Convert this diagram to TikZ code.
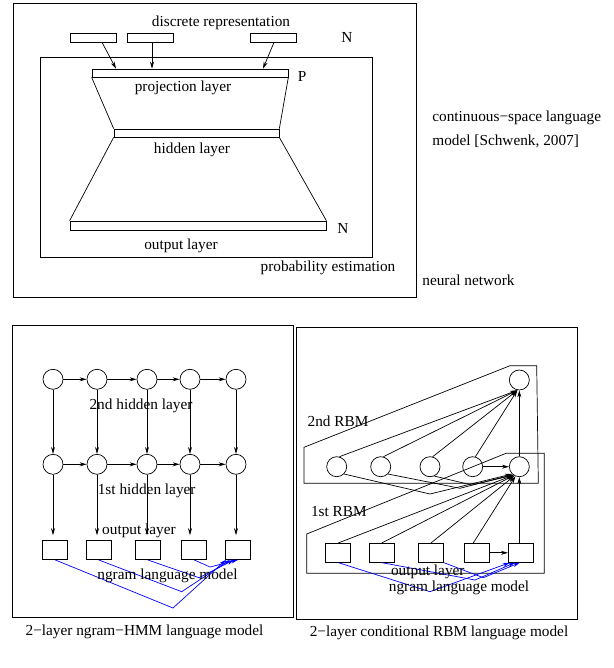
\documentclass[tikz,border=0pt]{standalone}
\usepackage{fontspec}
\setmainfont{Liberation Serif}
\usetikzlibrary{arrows.meta,calc}
\begin{document}
\begin{tikzpicture}[x=1pt,y=-1pt,line width=0.7pt,
  lbl/.style={inner sep=0pt,font=\fontsize{15.3}{17}\selectfont},
  lbll/.style={lbl,anchor=west},
  bar/.style={draw,inner sep=0pt,minimum height=8pt},
  unit/.style={draw,circle,inner sep=0pt,minimum size=20pt},
  cell/.style={draw,inner sep=0pt,minimum width=25pt,minimum height=19pt},
  arr/.style={-{Stealth[length=7pt,width=4pt]}},
  barr/.style={blue,-{Stealth[length=7pt,width=4pt]}}]
\useasboundingbox (0,0) rectangle (613,668);

% ---------- top panel ----------
\draw (13,3) rectangle (416,297);
\draw (40,57.7) rectangle (372,257);
\node[bar,minimum width=46pt,minimum height=9pt] (d1) at (93,37.5) {};
\node[bar,minimum width=46pt,minimum height=9pt] (d2) at (150,37.5) {};
\node[bar,minimum width=46pt,minimum height=9pt] (d3) at (273,37.5) {};
\node[bar,minimum width=196pt] (proj) at (190,73) {};
\node[bar,minimum width=165pt] (hid) at (196.5,133) {};
\node[bar,minimum width=256pt,minimum height=9pt] (outb) at (198,225.5) {};
\draw[arr] ([xshift=9pt]d1.south) -- ([xshift=-74pt]proj.north);
\draw[arr] ([xshift=2pt]d2.south) -- ([xshift=-38pt]proj.north);
\draw[arr] ([xshift=1pt]d3.south) -- ([xshift=73pt]proj.north);
\draw (proj.south west) -- (hid.north west);
\draw (proj.south east) -- (hid.north east);
\draw (hid.south west) -- (outb.north west);
\draw (hid.south east) -- (outb.north east);
\node[lbl] (tdisc) at (221,22.7) {discrete representation};
\node[lbl] (tn1) at (347,37) {N};
\node[lbl] (tp) at (302,76) {P};
\node[lbl] (tproj) at (183,88) {projection layer};
\node[lbl] (thid) at (192,150) {hidden layer};
\node[lbl] (tn2) at (343,228) {N};
\node[lbl] (tout) at (181,246) {output layer};
\node[lbl] (tprob) at (328,268) {probability estimation};
\node[lbll] (tcs1) at (432,118) {continuous−space language};
\node[lbll] (tcs2) at (432,141) {model [Schwenk, 2007]};
\node[lbll] (tnn) at (422,280) {neural network};

% ---------- bottom left panel ----------
\draw (12.7,325) rectangle (293,617);
\foreach \i/\x in {1/53,2/97,3/147,4/190,5/236} {
  \node[unit] (a\i) at (\x,379.3) {};
  \node[unit] (b\i) at (\x,464.3) {};
}
\foreach \i/\x in {1/55,2/98.5,3/147.5,4/194,5/238}
  \node[cell] (c\i) at (\x,550) {};
\foreach \i/\j in {1/2,2/3,3/4,4/5} {
  \draw[arr] (a\i) -- (a\j);
  \draw[arr] (b\i) -- (b\j);
}
\foreach \i in {1,...,5} {
  \draw[arr] (a\i) -- (b\i);
  \draw[arr,shorten >=5pt] (b\i.south) -- (b\i.south |- c\i.north);
}
\coordinate (v1) at (173,608);
\coordinate (v2) at (181.7,591.7);
\coordinate (v3) at (199,577.7);
\coordinate (v4) at (210,567);
\draw[barr] (c1.south) -- (v1) -- ([xshift=-12pt]c5.south);
\draw[barr] (c2.south) -- (v2) -- ([xshift=-8pt]c5.south);
\draw[barr] (c3.south) -- (v3) -- ([xshift=-4pt]c5.south);
\draw[barr] (c4.south) -- (v4) -- ([xshift=0pt]c5.south);
\node[lbl] (l2h) at (141,406) {2nd hidden layer};
\node[lbl] (l1h) at (146.7,491) {1st hidden layer};
\node[lbl] (lout) at (139,531) {output layer};
\node[lbl] (lng) at (167.5,576) {ngram language model};
\node[lbl] (lcap) at (144.5,632) {2−layer ngram−HMM language model};

% ---------- bottom right panel ----------
\draw (296,327) rectangle (577,619);
\draw (304,447.3) -- (510,365.7) -- (536.7,365.7) -- (538.3,483.3) -- (304,483.3) -- cycle;
\draw (306.7,534) -- (506,453.3) -- (544.3,453.3) -- (544.3,573.3) -- (306.7,573.3) -- cycle;
\node[unit] (t) at (519.3,380) {};
\foreach \i/\x in {1/336.7,2/380.7,3/430,4/472.7,5/519.3}
  \node[unit] (r\i) at (\x,466.7) {};
\foreach \i/\x in {1/338.3,2/381.8,3/431,4/477.3,5/520.8}
  \node[cell] (s\i) at (\x,552.8) {};
\foreach \i in {1,...,4}
  \draw[arr] (r\i.75) -- ([xshift=-2pt]t.south);
\draw[arr] (r5) -- (t);
\draw[arr] (r4) -- (r5);
\coordinate (w1) at (430,494);
\coordinate (w2) at (460,488.3);
\coordinate (w3) at (471.7,485);
\draw[arr] (r1.-45) -- (w1) -- (r5.-135);
\draw[arr] (r2.-45) -- (w2) -- (r5.-130);
\draw[arr] (r3.-65) -- (w3) -- (r5.-125);
\draw[arr] (s1.north) -- (r5.-125);
\draw[arr] (s2.north) -- (r5.-122);
\draw[arr] (s3.north) -- (r5.-118);
\draw[arr] ([xshift=-4pt]s4.north) -- (r5.-112);
\draw[arr] (s4) -- (s5);
\draw[arr] (r5.south |- s5.north) -- (r5.south);
\coordinate (u1) at (430,591.7);
\coordinate (u2) at (475,580);
\coordinate (u3) at (483.3,577.7);
\draw[barr] (s1.south) -- (u1) -- ([xshift=-11pt]s5.south);
\draw[barr] (s2.south) -- (u2) -- ([xshift=-6pt]s5.south);
\draw[barr] (s3.south east) -- (u3) -- ([xshift=-1pt]s5.south);
\node[lbll] (r2t) at (307.3,421) {2nd RBM};
\node[lbll] (r1t) at (310.7,512) {1st RBM};
\node[lbl] (rout) at (427.8,572) {output layer};
\node[lbl] (rng) at (459,587.5) {ngram language model};
\node[lbl] (rcap) at (439,633) {2−layer conditional RBM language model};
\end{tikzpicture}
\end{document}
